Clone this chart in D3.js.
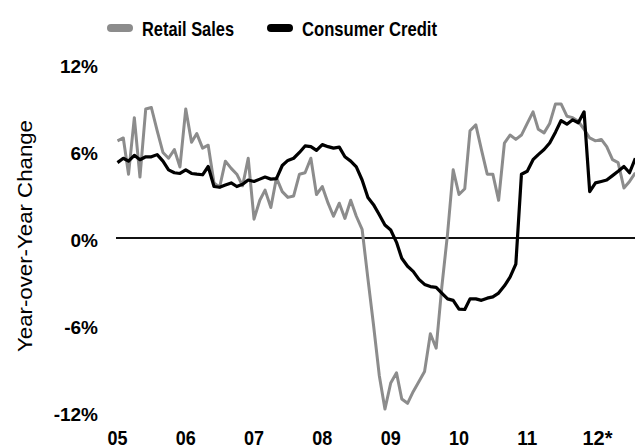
<!DOCTYPE html>
<html>
<head>
<meta charset="utf-8">
<script src="https://cdn.jsdelivr.net/npm/d3@7"></script>
<style>
  body { margin: 0; background: #fff; }
  svg { display: block; }
</style>
</head>
<body>
<svg class="chart"></svg>
<script>
// monthly, Jan 2005 .. Aug 2012
const startMonth = new Date(2005, 0, 1);
const retailSales = [
    6.7, 6.9, 4.4, 8.3, 4.2, 8.9, 9.0, 7.4, 5.9, 5.5, 6.1, 4.9,
    8.9, 6.6, 7.2, 6.2, 6.4, 3.8, 3.5, 5.3, 4.8, 4.4, 3.6, 5.5,
    1.3, 2.6, 3.3, 2.1, 4.15, 3.2, 2.8, 2.9, 4.4, 4.5, 5.5, 3.0,
    3.55, 2.4, 1.5, 2.4, 1.35, 2.6, 1.5, 0.6, -2.8, -6.0, -9.5, -11.8,
    -10.0, -9.3, -11.1, -11.4, -10.6, -9.9, -9.2, -6.6, -7.6, -3.4, 0.3, 4.7,
    3.0, 3.4, 7.4, 7.8, 6.1, 4.4, 4.4, 2.6, 6.55, 7.1, 6.8, 7.1,
    7.9, 8.7, 7.5, 7.25, 7.9, 9.25, 9.25, 8.4, 8.3, 8.05, 7.5, 6.9,
    6.7, 6.8, 6.3, 5.4, 5.2, 3.45, 3.9, 4.5
];
const consumerCredit = [
    5.2, 5.5, 5.3, 5.7, 5.4, 5.6, 5.6, 5.75, 5.3, 4.7, 4.5, 4.45,
    4.7, 4.45, 4.4, 4.36, 4.93, 3.55, 3.5, 3.65, 3.8, 3.55, 3.7, 4.0,
    3.9, 4.06, 4.2, 4.06, 4.1, 5.0, 5.35, 5.5, 5.9, 6.35, 6.3, 6.04,
    6.44, 6.3, 6.2, 6.27, 5.6, 5.3, 4.9, 4.0, 2.8, 2.3, 1.6, 0.9,
    0.55, -0.3, -1.4, -1.95, -2.3, -2.85, -3.2, -3.35, -3.4, -3.8, -4.2, -4.3,
    -4.9, -4.93, -4.2, -4.2, -4.3, -4.15, -4.06, -3.8, -3.3, -2.7, -1.8, 4.4,
    4.6, 5.4, 5.75, 6.1, 6.55, 7.3, 8.1, 7.85, 8.15, 7.95, 8.7, 3.2,
    3.8, 3.9, 4.0, 4.3, 4.6, 4.93, 4.5, 5.5
];
const yTicks = [12, 6, 0, -6, -12];
const xTickLabels = ["05", "06", "07", "08", "09", "10", "11", "12*"];
const seriesNames = ["Retail Sales", "Consumer Credit"];
const seriesColors = ["#8c8c8c", "#000000"];

const width = 635;
const height = 448;
const font = "'Liberation Sans', Arial, Helvetica, sans-serif";

const months = retailSales.map((d, i) => d3.timeMonth.offset(startMonth, i));

const x = d3.scaleTime()
    .domain([new Date(2005, 0, 1), new Date(2012, 0, 1)])
    .range([117.5, 595.5]);

const y = d3.scaleLinear()
    .domain([-12, 12])
    .range([412, 64]);

const svg = d3.select(".chart")
    .attr("width", width)
    .attr("height", height);

// zero line
svg.append("line")
    .attr("x1", 116)
    .attr("x2", width)
    .attr("y1", y(0))
    .attr("y2", y(0))
    .attr("stroke", "#111")
    .attr("stroke-width", 2);

// y tick labels
svg.selectAll(".ytick")
    .data(yTicks)
    .enter().append("text")
    .attr("class", "ytick")
    .attr("x", 98)
    .attr("y", d => y(d) + 2)
    .attr("dy", "0.35em")
    .attr("text-anchor", "end")
    .style("font-family", font)
    .style("font-weight", "bold")
    .style("font-size", "19px")
    .text(d => d + "%");

// x tick labels (condensed look)
svg.selectAll(".xtick")
    .data(xTickLabels)
    .enter().append("text")
    .attr("class", "xtick")
    .attr("x", (d, i) => x(new Date(2005 + i, 0, 1)) + (i === 7 ? 2 : 0))
    .attr("y", 445)
    .attr("text-anchor", "middle")
    .attr("textLength", d => d.length === 2 ? 20 : 30)
    .attr("lengthAdjust", "spacingAndGlyphs")
    .style("font-family", font)
    .style("font-weight", "bold")
    .style("font-size", "21px")
    .text(d => d);

// y axis title
svg.append("text")
    .attr("transform", "translate(32, 236) rotate(-90)")
    .attr("text-anchor", "middle")
    .attr("textLength", 232)
    .attr("lengthAdjust", "spacingAndGlyphs")
    .style("font-family", font)
    .style("font-size", "21px")
    .text("Year-over-Year Change");

const line = d3.line()
    .x((d, i) => x(months[i]))
    .y(d => y(d));

[retailSales, consumerCredit].forEach((series, k) => {
    svg.append("path")
        .datum(series)
        .attr("fill", "none")
        .attr("stroke", seriesColors[k])
        .attr("stroke-width", k === 0 ? 3 : 3.2)
        .attr("stroke-linejoin", "round")
        .attr("d", line);
});

// legend
const legendX = [111, 271];
const legendTextLength = [92, 135];
const legend = svg.selectAll(".legend")
    .data(seriesNames)
    .enter().append("g")
    .attr("class", "legend")
    .attr("transform", (d, i) => `translate(${legendX[i]}, 28)`);

legend.append("line")
    .attr("x1", 0)
    .attr("x2", 18)
    .attr("stroke", (d, i) => seriesColors[i])
    .attr("stroke-width", 8)
    .attr("stroke-linecap", "round");

legend.append("text")
    .attr("x", 31)
    .attr("y", 7.5)
    .attr("textLength", (d, i) => legendTextLength[i])
    .attr("lengthAdjust", "spacingAndGlyphs")
    .style("font-family", font)
    .style("font-weight", "bold")
    .style("font-size", "21px")
    .text(d => d);
</script>
</body>
</html>
